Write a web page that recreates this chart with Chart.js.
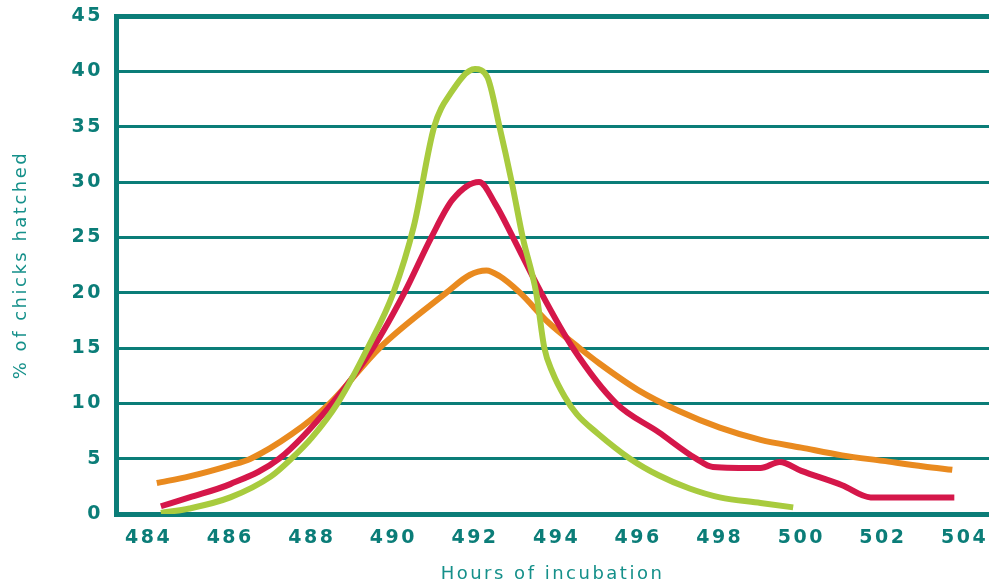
<!DOCTYPE html>
<html>
<head>
<meta charset="utf-8">
<script src="https://cdn.jsdelivr.net/npm/chart.js@4/dist/chart.umd.min.js"></script>
<style>
  body { margin: 0; background: #fff; }
  canvas { display: block; }
</style>
</head>
<body>
<canvas id="chart" width="989" height="585"></canvas>
<script>
// ========
// Data
// ========
const xTicks = [484, 486, 488, 490, 492, 494, 496, 498, 500, 502, 504];

// hours / % hatched
const greenHours = [484.3, 485, 486, 487, 487.5, 488, 488.63, 489.37, 490, 490.5, 491, 491.4, 492, 492.3, 492.6, 492.9, 493.17, 493.5, 493.7, 493.9, 494.2, 494.5, 495, 495.8, 496.5, 497.26, 498, 499, 499.8];
const greenPct   = [0.1, 0.5, 1.5, 3.4, 5, 6.9, 10, 15, 20, 26, 35, 38, 40.2, 39.5, 35, 30, 25, 20, 15, 12.8, 10.6, 9.0, 7.3, 5, 3.5, 2.3, 1.5, 1.0, 0.6];

const redHours = [484.3, 485, 486, 487.2, 488.5, 489.5, 490.27, 490.93, 491.45, 492.1, 492.5, 492.93, 493.62, 494.4, 495.46, 496.5, 497.42, 497.83, 499, 499.47, 500, 501, 501.7, 503.75];
const redPct   = [0.7, 1.5, 2.7, 5, 10, 15, 20, 25, 28.4, 30, 28, 25, 20, 15, 10, 7.4, 5, 4.25, 4.15, 4.7, 3.9, 2.6, 1.5, 1.5];

const orangeHours = [484.2, 485, 486, 486.5, 487.5, 488.44, 489.66, 491.3, 491.87, 492.28, 492.6, 493.1, 493.8, 494.56, 495.05, 496, 497, 498, 499, 500, 501, 502, 503, 503.7];
const orangePct   = [2.8, 3.4, 4.4, 5, 7.2, 10, 15, 20, 21.6, 22, 21.5, 20, 17.3, 15, 13.6, 11.2, 9.3, 7.8, 6.7, 6.0, 5.3, 4.8, 4.3, 4.0];

const toPoints = (xs, ys) => xs.map((x, i) => ({ x: x, y: ys[i] }));

// ========
// Style
// ========
const teal = "#0b7d78";
const tickFont = { family: "DejaVu Sans", size: 19, weight: "bold" };
const titleFont = { family: "DejaVu Sans", size: 18, weight: "normal" };

// wide spaced lettering like the original
const spacing = {
    id: "spacing",
    beforeUpdate: c => { c.ctx.letterSpacing = "2.5px"; },
    beforeDraw: c => { c.ctx.letterSpacing = "2.5px"; }
};

const line = (data, color) => ({
    data: data,
    borderColor: color,
    borderWidth: 6,
    showLine: true,
    pointRadius: 0,
    cubicInterpolationMode: "monotone",
    borderCapStyle: "butt",
    borderJoinStyle: "round"
});

new Chart(document.getElementById("chart"), {
    type: "scatter",
    data: {
        // first dataset is painted on top
        datasets: [
            line(toPoints(greenHours, greenPct), "#a8cb3e"),
            line(toPoints(redHours, redPct), "#d5174a"),
            line(toPoints(orangeHours, orangePct), "#e98a1f")
        ]
    },
    plugins: [spacing],
    options: {
        responsive: false,
        animation: false,
        layout: { padding: { top: 16, right: 0, left: 0, bottom: 0 } },
        plugins: { legend: { display: false }, tooltip: { enabled: false } },
        scales: {
            x: {
                type: "linear",
                min: 483.2,
                max: 504.6,
                afterBuildTicks: axis => { axis.ticks = xTicks.map(v => ({ value: v })); },
                afterFit: axis => {
                    axis.height = 71;
                    axis.paddingLeft = 0;
                    axis.paddingRight = 0;
                },
                grid: { display: false, drawTicks: false },
                border: { display: true, color: teal, width: 5 },
                ticks: { color: teal, font: tickFont, padding: 13, maxRotation: 0, autoSkip: false },
                title: {
                    display: true, text: "Hours of incubation",
                    color: "#15908a", font: titleFont, padding: { top: 0, bottom: 0 }
                }
            },
            y: {
                min: 0,
                max: 45,
                afterFit: axis => {
                    axis.width = 116;
                    axis.paddingTop = 0;
                    axis.paddingBottom = 0;
                },
                grid: {
                    color: teal,
                    lineWidth: ctx => (ctx.tick && ctx.tick.value === 45 ? 5 : 3),
                    drawTicks: false
                },
                border: { display: true, color: teal, width: 5 },
                ticks: { stepSize: 5, color: teal, font: tickFont, padding: 13 },
                title: {
                    display: true, text: "% of chicks hatched",
                    color: "#15908a", font: titleFont, padding: { top: 11, bottom: 0 }
                }
            }
        }
    }
});
</script>
</body>
</html>
